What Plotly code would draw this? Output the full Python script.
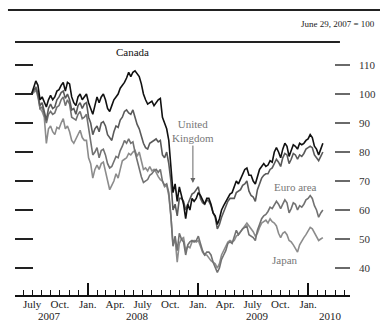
import pandas as pd
import plotly.graph_objects as go

# Weekly observations (Fridays), June 29, 2007 through Feb. 19, 2010
dates = pd.date_range("2007-06-29", "2010-02-19", freq="7D")

canada = [
    100,
    102, 104.5, 103, 98,
    99, 97, 95.5, 98, 99.5,
    98, 99, 101, 101.5,
    103, 104, 101, 104,
    103.5, 99, 97, 96, 99,
    100, 98, 99, 100,
    # 2008
    97, 95, 93, 96,
    99, 97, 99, 100, 98,
    95, 94, 96, 98,
    99, 100, 102, 103,
    104, 105.5, 107.5, 106, 107.5,
    108, 107, 106, 103.5,
    100, 98, 96.5, 97,
    97.5, 96, 97, 98, 98.5,
    92, 90, 88, 84,
    76, 66, 69, 63, 68,
    65, 62, 57, 62,
    60, 64, 63, 64,
    # 2009
    66, 65, 63.5, 62, 64,
    64, 62, 59, 58,
    55, 57, 60, 61.5,
    63, 64, 65.5, 66,
    68, 70, 69, 70.5, 72,
    74, 74.5, 72, 72,
    70, 69, 72, 74, 75,
    76, 75, 75.5, 77,
    76.5, 80, 81.5, 80,
    78, 81, 83, 82, 78.5,
    80.5, 82.5, 82, 81,
    83, 82.5, 83, 84,
    # 2010
    84.5, 86, 85, 82, 81,
    79, 81, 83,
]

united_kingdom = [
    100,
    101.5, 102, 100, 96,
    97, 94, 91, 95, 96.5,
    95, 95.5, 98, 99,
    100.5, 101, 98.5, 100,
    98, 94.5, 95, 93, 96,
    97, 95, 96.5, 97,
    # 2008
    92, 90, 86, 88,
    89, 87, 90, 90.5, 89,
    86, 85, 84, 87,
    89, 88.5, 91, 92,
    94, 94.5, 93.5, 93, 94.5,
    92, 89.5, 88, 85,
    83, 81.5, 81, 83,
    83.5, 84, 84.5, 83.5, 84,
    79, 78, 80, 76,
    70, 60, 62, 58, 64,
    64, 63, 60, 62,
    64, 65.5, 66, 67,
    # 2009
    68, 64, 62.5, 62, 63.5,
    63, 61.5, 59, 57.5,
    53.5, 55, 57.5, 59.5,
    61, 63, 64, 64,
    64, 66, 66.5, 67, 68.5,
    69, 70, 66.5, 65,
    64.5, 63, 67, 69, 71,
    72, 72.5, 72.5, 74,
    74.5, 76, 77.5, 76.5,
    75, 78, 79.5, 79, 76,
    77.5, 79.5, 79, 77.5,
    79, 78.5, 79.5, 81,
    # 2010
    81.5, 82, 81.5, 79, 78,
    77, 78.5, 80,
]

euro_area = [
    100,
    101, 102.5, 100, 95,
    95.5, 93, 90, 93, 94,
    93, 93.5, 95.5, 96,
    98, 99, 96, 98,
    96.5, 92, 91.5, 91, 93,
    94, 91.5, 92, 93,
    # 2008
    88, 84, 79, 80,
    81.5, 78, 80.5, 81, 79,
    76, 74.5, 75, 77,
    78.5, 78, 80.5, 82,
    84, 83, 84.5, 83, 83.5,
    80, 77, 75, 71.5,
    69.5, 70, 70.5, 72,
    72.5, 73.5, 74, 73, 74,
    70, 68.5, 69, 66,
    58, 47.5, 51, 46, 52,
    50, 49, 44.5, 48,
    49, 49.5, 49, 49.5,
    # 2009
    51, 48.5, 46, 44.5, 45.5,
    45.5, 44.5, 42, 40,
    38.5, 40, 43, 44.5,
    46, 48.5, 49, 48.5,
    50.5, 53, 51.5, 52.5, 53.5,
    54, 54.5, 51.5, 51,
    50.5, 49.5, 53, 55, 57,
    58, 58.5, 59.5, 61,
    60.5, 62, 63, 62,
    60.5, 62, 63.5, 62.5, 59,
    60.5, 62.5, 62, 60,
    61.5, 61, 62, 63.5,
    # 2010
    64, 65, 64, 61.5, 60,
    57.5, 59, 60,
]

japan = [
    100,
    100.5, 101.5, 99, 95,
    94, 92, 83, 88, 89,
    87, 86, 88.5, 88,
    90, 91.5, 88, 89,
    87, 84, 83, 84.5, 86,
    87.5, 85, 84, 84,
    # 2008
    78, 76, 71, 74,
    75.5, 74, 76, 76.5, 73,
    70, 67, 68.5, 70,
    72.5, 71, 74, 77,
    77.5, 78, 79.5, 79, 80,
    80.5, 78.5, 80, 77,
    74, 74.5, 73.5, 75,
    73.5, 74, 73, 71.5, 70.5,
    70, 68, 68.5, 65,
    58, 48, 50, 42, 48.5,
    50, 50.5, 46, 47.5,
    47, 49, 49.5, 49,
    # 2009
    49.5, 47.5, 45.5, 44.5, 44.5,
    43.5, 42.5, 42, 41.5,
    40, 41.5, 44.5, 46,
    48, 49, 49.5, 49,
    49.5, 51, 51.5, 52.5, 53.5,
    54.5, 55.5, 54.5, 53.5,
    52.5, 51, 52, 54, 55.5,
    56, 56.5, 55.5, 57,
    56, 55.5, 54.5, 52,
    50.5, 52, 52.5, 51.5, 49.5,
    49, 48, 46.5, 45.5,
    48, 49.5, 50.5, 51.5,
    # 2010
    53, 54, 53.5, 52, 50.5,
    49.5, 50, 50.5,
]

y_ticks = [40, 50, 60, 70, 80, 90, 100, 110]
quarter_ticks = ["2007-07-01", "2007-10-01", "2008-01-01", "2008-04-01", "2008-07-01",
                 "2008-10-01", "2009-01-01", "2009-04-01", "2009-07-01", "2009-10-01",
                 "2010-01-01"]
quarter_labels = ["July", "Oct.", "Jan.", "Apr.", "July", "Oct.", "Jan.", "Apr.",
                  "July", "Oct.", "Jan."]
year_ticks = ["2007-05-06", "2008-01-01", "2009-01-01", "2010-01-01", "2010-05-19"]
year_labels = ["2007", "2008", "2009", "2010"]
year_label_pos = ["2007-08-29", "2008-06-13", "2009-07-16", "2010-03-15"]

x_range = ["2007-05-05", "2010-05-20"]
y_range = [30.7, 116.9]

SERIF = "Liberation Serif"

fig = go.Figure()
series = [
    ("Japan", japan, "#8c8c8c"),
    ("Euro area", euro_area, "#727272"),
    ("United Kingdom", united_kingdom, "#5a5a5a"),
    ("Canada", canada, "#111111"),
]
for name, vals, col in series:
    fig.add_trace(go.Scatter(x=dates, y=vals, mode="lines", name=name,
                             line=dict(color=col, width=1.6), showlegend=False))

# helper (empty) traces so the secondary axes render
fig.add_trace(go.Scatter(x=[], y=[], yaxis="y2", showlegend=False))
fig.add_trace(go.Scatter(x=[], y=[], xaxis="x2", showlegend=False))

fig.update_layout(
    width=380, height=325,
    margin=dict(l=15, r=30, t=45, b=30),
    paper_bgcolor="white", plot_bgcolor="white",
    font=dict(family=SERIF, color="#222"),
    # main x axis: baseline, monthly minor ticks, tall January ticks
    xaxis=dict(type="date", range=x_range, showgrid=False, zeroline=False,
               showline=True, linecolor="#111", linewidth=1.5,
               tickvals=year_ticks, showticklabels=False,
               ticks="inside", ticklen=12, tickwidth=1.5, tickcolor="#111",
               automargin=False,
               minor=dict(ticks="inside", ticklen=5, tickwidth=1, tickcolor="#111",
                          dtick="M1", tick0="2007-01-01", showgrid=False)),
    # overlay x axis: quarter labels only
    xaxis2=dict(type="date", range=x_range, overlaying="x", anchor="y", side="bottom",
                showgrid=False, zeroline=False, showline=False,
                tickvals=quarter_ticks, ticktext=quarter_labels, ticks="",
                ticklabelstandoff=1, automargin=False,
                tickfont=dict(family=SERIF, size=11, color="#222")),
    yaxis=dict(range=y_range, tickvals=y_ticks, showticklabels=False,
               ticks="inside", ticklen=18, tickwidth=2, tickcolor="#222",
               showgrid=False, zeroline=False, showline=False, automargin=False),
    yaxis2=dict(range=y_range, tickvals=y_ticks, overlaying="y", side="right",
                ticks="inside", ticklen=15, tickwidth=1.6, tickcolor="#6a6a6a",
                tickfont=dict(family=SERIF, size=11, color="#333"),
                ticklabelstandoff=8, automargin=False,
                showgrid=False, zeroline=False, showline=False),
)

# top rules
fig.add_shape(type="line", xref="paper", yref="paper", x0=-0.021, x1=1.09,
              y0=1.14, y1=1.14, line=dict(color="#222", width=2))
fig.add_shape(type="line", xref="paper", yref="paper", x0=0.0, x1=0.97,
              y0=1.012, y1=1.012, line=dict(color="#222", width=2))
fig.add_annotation(text="June 29, 2007 = 100", xref="paper", yref="paper",
                   x=1.08, y=1.084, xanchor="right", yanchor="middle",
                   showarrow=False, font=dict(family=SERIF, size=9, color="#222"))

# year labels
for lab, pos in zip(year_labels, year_label_pos):
    fig.add_annotation(text=lab, x=pos, y=-0.083, xref="x", yref="paper",
                       showarrow=False, yanchor="middle",
                       font=dict(family=SERIF, size=11, color="#222"))

# series labels
fig.add_annotation(text="Canada", x="2008-05-30", y=114.5, showarrow=False,
                   font=dict(family=SERIF, size=11, color="#111"))
fig.add_annotation(text="United<br>Kingdom", x="2008-12-15", y=69.3,
                   ax=0, ay=-52, showarrow=True, arrowhead=2, arrowsize=1,
                   arrowwidth=1, arrowcolor="#666",
                   font=dict(family=SERIF, size=11, color="#777"))
fig.add_annotation(text="Euro area", x="2009-11-19", y=67.9, showarrow=False,
                   font=dict(family=SERIF, size=11, color="#777"))
fig.add_annotation(text="Japan", x="2009-10-17", y=42.8, showarrow=False,
                   font=dict(family=SERIF, size=11, color="#777"))

fig.write_html("out.html", config={"displayModeBar": False},
               post_script="document.body.style.margin='0';")
